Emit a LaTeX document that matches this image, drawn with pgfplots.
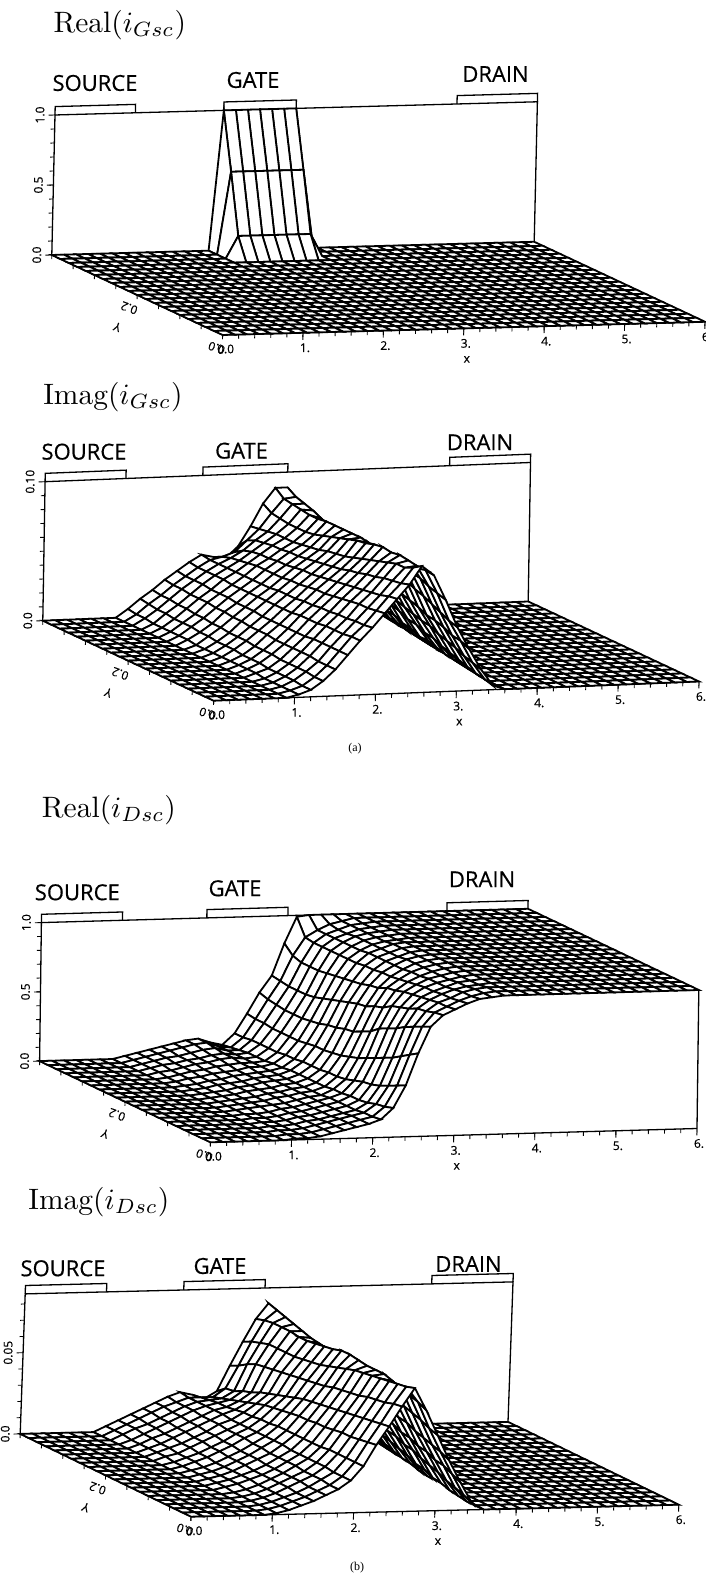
\documentclass[border=0pt]{standalone}
\usepackage{fontspec}
\usepackage{pgfplots}
\usepackage{pgfplotstable}
\pgfplotsset{compat=1.18}
\usetikzlibrary{calc}
\newfontfamily\labf[FakeBold=0.5]{Open Sans}
\newfontfamily\capf{Liberation Serif}
\def\P#1#2{({#1*1pt},{(1582-#2)*1pt})}
% z in percent of the axis top; rows front (y=0) to back (y=0.4) in steps of 0.02, columns x=0,0.15,...,6
\pgfplotstableread[header=false]{
0 0 0 0 0 0 0  0 0 0 0 0 0 0 0 0 0 0 0 0 0 0 0 0 0 0 0 0  0 0 0 0 0 0 0 0 0 0 0 0 0
0 0 0 0 0 0 0  0 0 0 0 0 0 0 0 0 0 0 0 0 0 0 0 0 0 0 0 0  0 0 0 0 0 0 0 0 0 0 0 0 0
0 0 0 0 0 0 0  0 0 0 0 0 0 0 0 0 0 0 0 0 0 0 0 0 0 0 0 0  0 0 0 0 0 0 0 0 0 0 0 0 0
0 0 0 0 0 0 0  0 0 0 0 0 0 0 0 0 0 0 0 0 0 0 0 0 0 0 0 0  0 0 0 0 0 0 0 0 0 0 0 0 0
0 0 0 0 0 0 0  0 0 0 0 0 0 0 0 0 0 0 0 0 0 0 0 0 0 0 0 0  0 0 0 0 0 0 0 0 0 0 0 0 0
0 0 0 0 0 0 0  0 0 0 0 0 0 0 0 0 0 0 0 0 0 0 0 0 0 0 0 0  0 0 0 0 0 0 0 0 0 0 0 0 0
0 0 0 0 0 0 0  0 0 0 0 0 0 0 0 0 0 0 0 0 0 0 0 0 0 0 0 0  0 0 0 0 0 0 0 0 0 0 0 0 0
0 0 0 0 0 0 0  0 0 0 0 0 0 0 0 0 0 0 0 0 0 0 0 0 0 0 0 0  0 0 0 0 0 0 0 0 0 0 0 0 0
0 0 0 0 0 0 0  0 0 0 0 0 0 0 0 0 0 0 0 0 0 0 0 0 0 0 0 0  0 0 0 0 0 0 0 0 0 0 0 0 0
0 0 0 0 0 0 0  0 0 0 0 0 0 0 0 0 0 0 0 0 0 0 0 0 0 0 0 0  0 0 0 0 0 0 0 0 0 0 0 0 0
0 0 0 0 0 0 0  0 0 0 0 0 0 0 0 0 0 0 0 0 0 0 0 0 0 0 0 0  0 0 0 0 0 0 0 0 0 0 0 0 0
0 0 0 0 0 0 0  0 0 0 0 0 0 0 0 0 0 0 0 0 0 0 0 0 0 0 0 0  0 0 0 0 0 0 0 0 0 0 0 0 0
0 0 0 0 0 0 0  0 0 0 0 0 0 0 0 0 0 0 0 0 0 0 0 0 0 0 0 0  0 0 0 0 0 0 0 0 0 0 0 0 0
0 0 0 0 0 0 0  0 0 0 0 0 0 0 0 0 0 0 0 0 0 0 0 0 0 0 0 0  0 0 0 0 0 0 0 0 0 0 0 0 0
0 0 0 0 0 0 0  0 0 0 0 0 0 0 0 0 0 0 0 0 0 0 0 0 0 0 0 0  0 0 0 0 0 0 0 0 0 0 0 0 0
0 0 0 0 0 0 0  0 0 0 0 0 0 0 0 0 0 0 0 0 0 0 0 0 0 0 0 0  0 0 0 0 0 0 0 0 0 0 0 0 0
0 0 0 0 0 0 0  0 0 0 0 0 0 0 0 0 0 0 0 0 0 0 0 0 0 0 0 0  0 0 0 0 0 0 0 0 0 0 0 0 0
0 0 0 0 0 0 0  0 0 0 0 0 0 0 0 0 0 0 0 0 0 0 0 0 0 0 0 0  0 0 0 0 0 0 0 0 0 0 0 0 0
0 0 0 0 0 0 0  0 0 0 0 0 0 0 16 16 16 16 16 16 16 0 0 0 0 0 0 0  0 0 0 0 0 0 0 0 0 0 0 0 0
0 0 0 0 0 0 0  0 0 0 0 0 0 0 59 59 59 59 59 59 59 0 0 0 0 0 0 0  0 0 0 0 0 0 0 0 0 0 0 0 0
0 0 0 0 0 0 0  0 0 0 0 0 0 0 100 100 100 100 100 100 100 0 0 0 0 0 0 0  0 0 0 0 0 0 0 0 0 0 0 0 0
}\tabA
\pgfplotstableread[header=false]{
0 0 0 0 0 0 0  2 5 11 19 29 39 48 58 68 78  91 84 66 46 30 15 3 0 0 0 0  0 0 0 0 0 0 0 0 0 0 0 0 0
0 0 0 0 0 0 0  2 5 11 19 29 39 47 57 67 76  87 85 68 48 33 17 5 0 0 0 0  0 0 0 0 0 0 0 0 0 0 0 0 0
0 0 0 0 0 0 0  2 6 12 19 29 38 47 56 65 75  84 85 70 51 34 19 6 0 0 0 0  0 0 0 0 0 0 0 0 0 0 0 0 0
0 0 0 0 0 0 0  2 6 12 20 29 38 46 56 64 74  84 86 73 54 37 22 8 1 0 0 0  0 0 0 0 0 0 0 0 0 0 0 0 0
0 0 0 0 0 0 0  2 6 12 20 29 38 46 55 63 72  82 87 74 57 39 24 10 2 0 0 0  0 0 0 0 0 0 0 0 0 0 0 0 0
0 0 0 0 0 0 0  3 6 12 20 28 37 45 54 62 71  80 86 76 59 40 26 12 3 0 0 0  0 0 0 0 0 0 0 0 0 0 0 0 0
0 0 0 0 0 0 0  3 7 13 20 28 37 45 53 61 69  78 87 77 62 43 29 14 4 0 0 0  0 0 0 0 0 0 0 0 0 0 0 0 0
0 0 0 0 0 0 0  3 7 13 20 28 37 44 52 60 68  76 86 78 64 45 30 17 5 0 0 0  0 0 0 0 0 0 0 0 0 0 0 0 0
0 0 0 0 0 0 0  3 7 13 21 28 36 44 52 59 66  74 84 79 65 47 32 18 7 1 0 0  0 0 0 0 0 0 0 0 0 0 0 0 0
0 0 0 0 0 0 0  3 8 14 21 28 36 43 51 58 65  72 83 81 67 50 34 21 9 1 0 0  0 0 0 0 0 0 0 0 0 0 0 0 0
0 0 0 0 0 0 0  3 8 14 21 28 36 43 50 57 64  71 81 82 69 52 36 22 9 2 0 0  0 0 0 0 0 0 0 0 0 0 0 0 0
0 0 0 0 0 0 0  3 8 14 22 29 36 43 50 57 63  70 79 82 71 55 38 25 12 3 0 0  0 0 0 0 0 0 0 0 0 0 0 0 0
0 0 0 0 0 0 0  3 9 15 22 29 36 42 49 56 62  68 77 82 72 57 40 27 13 4 0 0  0 0 0 0 0 0 0 0 0 0 0 0 0
0 0 0 0 0 0 0  4 9 15 23 29 36 42 49 55 61  67 75 82 73 59 42 29 16 5 0 0  0 0 0 0 0 0 0 0 0 0 0 0 0
0 0 0 0 0 0 0  4 10 16 23 30 36 42 49 55 61  66 73 82 75 61 44 31 17 7 1 0  0 0 0 0 0 0 0 0 0 0 0 0 0
0 0 0 0 0 0 0  4 10 16 24 30 36 42 49 54 60  65 72 81 75 62 47 32 20 8 1 0  0 0 0 0 0 0 0 0 0 0 0 0 0
0 0 0 0 0 0 0  4 10 17 24 30 37 42 48 54 60  65 72 81 78 65 49 34 22 10 2 0  0 0 0 0 0 0 0 0 0 0 0 0 0
0 0 0 0 0 0 0  4 11 17 24 31 37 42 47 53 59  65 72 82 81 69 53 37 25 12 3 0  0 0 0 0 0 0 0 0 0 0 0 0 0
0 0 0 0 0 0 0  5 11 18 25 31 37 42 46 51 58  64 73 83 83 71 56 40 28 15 4 0  0 0 0 0 0 0 0 0 0 0 0 0 0
0 0 0 0 0 0 0  5 12 18 25 31 37 42 44 47 55  63 74 84 85 75 59 43 30 17 6 0  0 0 0 0 0 0 0 0 0 0 0 0 0
0 0 0 0 0 0 0  6 13 19 26 32 38 43 41 40 48  62 78 89 89 78 63 46 32 19 7 0  0 0 0 0 0 0 0 0 0 0 0 0 0
}\tabB
\pgfplotstableread[header=false]{
0 0 0 0 0 0 0  1 1 2 4 6 8 10 13 21 37 60 79 87 91 95 98 99 100 100 100 100  100 100 100 100 100 100 100 100 100 100 100 100 100
0 0 0 0 0 0 0  1 1 2 4 6 8 10 12 19 34 56 76 86 90 94 97 99 100 100 100 100  100 100 100 100 100 100 100 100 100 100 100 100 100
0 0 0 0 0 0 0  1 1 2 4 6 8 10 12 18 31 52 73 84 90 93 97 99 100 100 100 100  100 100 100 100 100 100 100 100 100 100 100 100 100
0 0 0 0 0 0 0  1 1 2 4 5 7 9 11 16 28 48 70 83 89 93 96 98 99 100 100 100  100 100 100 100 100 100 100 100 100 100 100 100 100
0 0 0 0 0 0 0  1 1 2 4 5 7 9 11 15 26 45 66 80 88 92 95 98 99 100 100 100  100 100 100 100 100 100 100 100 100 100 100 100 100
0 0 0 0 0 0 0  1 1 2 4 5 7 9 11 15 25 42 63 78 87 92 95 97 99 100 100 100  100 100 100 100 100 100 100 100 100 100 100 100 100
0 0 0 0 0 0 0  1 1 2 4 5 7 9 11 14 23 39 60 76 86 91 95 97 99 100 100 100  100 100 100 100 100 100 100 100 100 100 100 100 100
0 0 0 0 0 0 0  1 2 3 4 5 7 9 10 14 21 36 55 72 84 90 94 97 99 100 100 100  100 100 100 100 100 100 100 100 100 100 100 100 100
0 0 0 0 0 0 0  1 2 3 4 6 7 9 10 13 20 34 52 70 83 89 94 97 99 100 100 100  100 100 100 100 100 100 100 100 100 100 100 100 100
0 0 0 0 0 0 0  1 2 3 4 6 7 9 10 13 20 32 49 67 80 88 93 97 99 100 100 100  100 100 100 100 100 100 100 100 100 100 100 100 100
0 0 0 0 0 0 0  1 2 3 5 6 7 9 10 13 19 31 48 66 79 88 93 97 99 100 100 100  100 100 100 100 100 100 100 100 100 100 100 100 100
0 0 0 0 0 0 0  1 2 3 5 6 8 9 10 13 19 30 46 64 77 87 93 96 99 100 100 100  100 100 100 100 100 100 100 100 100 100 100 100 100
0 0 0 0 0 0 0  1 2 4 5 6 8 9 10 13 19 30 45 62 76 87 93 96 99 100 100 100  100 100 100 100 100 100 100 100 100 100 100 100 100
0 0 0 0 0 0 0  1 2 4 5 7 8 9 10 12 18 29 43 60 75 86 93 96 99 100 100 100  100 100 100 100 100 100 100 100 100 100 100 100 100
0 0 0 0 0 0 0  1 3 4 6 7 8 10 10 12 18 28 42 58 74 86 92 96 98 99 100 100  100 100 100 100 100 100 100 100 100 100 100 100 100
0 0 0 0 0 0 0  1 3 5 6 8 9 10 10 11 17 28 41 56 73 86 92 96 98 99 100 100  100 100 100 100 100 100 100 100 100 100 100 100 100
0 0 0 0 0 0 0  2 3 5 7 8 10 11 10 11 17 28 41 55 72 86 92 96 98 99 100 100  100 100 100 100 100 100 100 100 100 100 100 100 100
0 0 0 0 0 0 0  2 4 5 7 8 10 11 10 11 17 28 41 55 72 86 92 95 98 99 100 100  100 100 100 100 100 100 100 100 100 100 100 100 100
0 0 0 0 0 0 0  2 4 6 7 9 11 12 10 10 17 29 42 55 72 86 92 95 98 99 100 100  100 100 100 100 100 100 100 100 100 100 100 100 100
0 0 0 0 0 0 0  2 4 6 8 10 12 13 10 9 16 29 43 56 74 87 92 96 98 100 100 100  100 100 100 100 100 100 100 100 100 100 100 100 100
0 0 0 0 0 0 0  2 4 6 8 10 12 13 10 8 16 30 45 57 80 99 100 100 100 100 100 100  100 100 100 100 100 100 100 100 100 100 100 100 100
}\tabC
\pgfplotstableread[header=false]{
0 0 0 0 0 0 0  1 3 6 9 13 17 23 33 48 61  75 88 72 54 36 20 5 0 0 0 0  0 0 0 0 0 0 0 0 0 0 0 0 0
0 0 0 0 0 0 0  1 3 6 9 13 17 23 33 47 60  74 86 75 56 39 23 8 0 0 0 0  0 0 0 0 0 0 0 0 0 0 0 0 0
0 0 0 0 0 0 0  1 3 6 9 13 18 23 33 46 59  72 85 77 59 41 26 10 0 0 0 0  0 0 0 0 0 0 0 0 0 0 0 0 0
0 0 0 0 0 0 0  1 3 6 10 14 18 24 33 45 58  71 84 79 61 43 27 12 1 0 0 0  0 0 0 0 0 0 0 0 0 0 0 0 0
0 0 0 0 0 0 0  1 3 6 10 14 18 24 33 45 57  70 83 81 63 45 30 15 2 0 0 0  0 0 0 0 0 0 0 0 0 0 0 0 0
0 0 0 0 0 0 0  1 3 6 10 14 19 24 32 44 56  68 82 83 64 48 31 17 4 0 0 0  0 0 0 0 0 0 0 0 0 0 0 0 0
0 0 0 0 0 0 0  2 4 7 10 14 19 24 32 43 55  67 81 83 65 49 34 19 5 0 0 0  0 0 0 0 0 0 0 0 0 0 0 0 0
0 0 0 0 0 0 0  2 4 7 10 14 19 24 32 43 54  66 80 83 68 51 35 22 8 0 0 0  0 0 0 0 0 0 0 0 0 0 0 0 0
0 0 0 0 0 0 0  2 4 7 11 15 19 25 32 42 53  65 78 84 70 53 38 23 9 0 0 0  0 0 0 0 0 0 0 0 0 0 0 0 0
0 0 0 0 0 0 0  2 4 7 11 15 20 25 32 42 52  63 76 85 71 54 39 26 12 1 0 0  0 0 0 0 0 0 0 0 0 0 0 0 0
0 0 0 0 0 0 0  2 4 7 11 15 20 25 32 41 51  62 74 85 72 57 42 27 14 3 0 0  0 0 0 0 0 0 0 0 0 0 0 0 0
0 0 0 0 0 0 0  2 5 8 12 16 21 25 31 40 49  61 72 83 75 59 43 29 16 4 0 0  0 0 0 0 0 0 0 0 0 0 0 0 0
0 0 0 0 0 0 0  2 5 8 12 16 21 25 31 39 47  60 71 82 76 60 45 31 18 6 0 0  0 0 0 0 0 0 0 0 0 0 0 0 0
0 0 0 0 0 0 0  3 5 9 13 17 21 25 30 38 45  59 70 81 77 61 46 33 19 8 0 0  0 0 0 0 0 0 0 0 0 0 0 0 0
0 0 0 0 0 0 0  3 6 9 13 17 22 25 30 36 43  58 69 80 78 62 48 34 22 9 1 0  0 0 0 0 0 0 0 0 0 0 0 0 0
0 0 0 0 0 0 0  3 6 10 14 18 22 26 29 34 41  57 69 80 79 64 50 36 23 11 2 0  0 0 0 0 0 0 0 0 0 0 0 0 0
0 0 0 0 0 0 0  3 7 10 14 18 22 26 28 32 38  56 69 81 81 66 52 38 25 13 3 0  0 0 0 0 0 0 0 0 0 0 0 0 0
0 0 0 0 0 0 0  3 7 11 15 19 23 26 28 30 36  55 69 81 83 69 54 41 28 15 4 0  0 0 0 0 0 0 0 0 0 0 0 0 0
0 0 0 0 0 0 0  4 8 11 15 19 23 26 27 28 33  52 67 81 85 71 58 43 30 17 6 0  0 0 0 0 0 0 0 0 0 0 0 0 0
0 0 0 0 0 0 0  4 8 12 16 20 23 26 26 26 32  48 65 80 87 74 60 45 32 20 8 0  0 0 0 0 0 0 0 0 0 0 0 0 0
0 0 0 0 0 0 0  4 8 12 16 20 24 27 25 22 27  45 62 78 89 76 62 46 33 21 9 0  0 0 0 0 0 0 0 0 0 0 0 0 0
}\tabD
\newcommand\buildsurf[2]{%
  \gdef\tmpz{}%
  \foreach \r in {20,19,...,0}{\foreach \c in {40,39,...,0}{%
    \pgfplotstablegetelem{\r}{[index]\c}\of#1%
    \xdef\tmpz{\tmpz(\the\numexpr\c*15\relax,\the\numexpr\r*2\relax,\pgfplotsretval) }%
  }}%
  \global\let#2\tmpz}
\buildsurf\tabA\zA
\buildsurf\tabB\zB
\buildsurf\tabC\zC
\buildsurf\tabD\zD
\pgfplotsset{dev/.style={hide axis,clip=false,anchor=origin,
  xmin=0,xmax=600,ymin=0,ymax=40,zmin=0,zmax=100,
  colormap={allwhite}{color=(white) color=(white)}},
  fr/.style={black,line width=1.3pt,mark=none}}
\tikzset{lab/.style={font=\labf\fontsize{12}{14}\selectfont,inner sep=0pt},
  elec/.style={font=\labf\fontsize{22}{24}\selectfont,inner sep=0pt},
  ttl/.style={anchor=west,scale=2.95,inner sep=0pt}}
\newcommand\surfplot[1]{\addplot3[surf,shader=faceted,faceted color=black,line width=1.8pt,mesh/rows=21,z buffer=none,point meta=0] coordinates {#1};}
\newcommand\frameaxis[3]{%
  \addplot3[fr] coordinates {(0,0,0)(0,40,0)(0,40,100)(600,40,100)(600,40,#3)};
  \addplot3[fr] coordinates {(0,0,0)(600,0,0)};
  \addplot3[fr] coordinates {(0,40,100)(0,40,106)(100,40,106)(100,40,100)};
  \addplot3[fr] coordinates {(#1,40,100)(#1,40,106)(#2,40,106)(#2,40,100)};
  \addplot3[fr] coordinates {(500,40,100)(500,40,106)(600,40,106)(600,40,100)};
  \pgfplotsinvokeforeach{0,20,...,600}{\draw[black,line width=.9pt] (axis cs:##1,0,0)--(axis cs:##1,0,-3);}
  \pgfplotsinvokeforeach{100,200,...,600}{\draw[black,line width=.9pt] (axis cs:##1,0,0)--(axis cs:##1,0,-5);}
  \pgfplotsinvokeforeach{0,5,...,40}{\draw[black,line width=.9pt] (axis cs:0,##1,0)--(axis cs:0,##1,-3);}
  \pgfplotsinvokeforeach{1,...,6}{\node[lab] at ($(axis cs:##100,0,0)+(2pt,-15pt)$) {##1.};}
  \node[lab] at ($(axis cs:0,0,0)+(3pt,-14pt)$) {0.0};
  \node[lab,rotate=160] at ($(axis cs:0,0,0)+(-6pt,-13pt)$) {0.0};
  \node[lab,rotate=160] at ($(axis cs:0,20,0)+(-8pt,-13pt)$) {0.2};
  \node[lab,rotate=160] at ($(axis cs:0,20,0)+(-20pt,-32pt)$) {Y};
  \node[lab] at ($(axis cs:300,0,0)+(3pt,-31pt)$) {x};
}
\newcommand\zticks[1]{\pgfplotsinvokeforeach{#1}{\draw[black,line width=.9pt] (axis cs:0,40,##1)--(axis cs:-5,40,##1);}}
\newcommand\zlab[3]{\draw[black,line width=.9pt] (axis cs:0,40,#1)--(axis cs:-8,40,#1);\node[lab,rotate=90] at ($(axis cs:0,40,#1)+(#3pt,0pt)$) {#2};}
\begin{document}
\begin{tikzpicture}
\useasboundingbox \P{0}{0} rectangle \P{705}{1582};
% ---------- Real i_G
\node[ttl] at \P{53}{25} {Real$(i_{Gsc})$};
\node[elec] at \P{95}{83} {SOURCE};
\node[elec] at \P{253}{80} {GATE};
\node[elec] at \P{495.5}{74} {DRAIN};
\begin{axis}[dev,at={(222.6pt,1247pt)},x={(0.804pt,0.022pt)},y={(-4.27pt,2pt)},z={(0.032pt,1.4pt)}]
\frameaxis{210}{300}{0}
\zticks{10,20,...,90}
\zlab{0}{0.0}{-15}\zlab{50}{0.5}{-15}\zlab{100}{1.0}{-15}
\expandafter\surfplot\expandafter{\zA}
\end{axis}
% ---------- Imag i_G
\node[ttl] at \P{42.7}{397} {Imag$(i_{Gsc})$};
\node[elec] at \P{84}{451.7} {SOURCE};
\node[elec] at \P{241.5}{450.7} {GATE};
\node[elec] at \P{480}{442.3} {DRAIN};
\begin{axis}[dev,at={(213.6pt,881.3pt)},x={(0.809pt,0.032pt)},y={(-4.27pt,2pt)},z={(0.023pt,1.39pt)}]
\frameaxis{195}{300}{0}
\zticks{10,20,...,90}
\zlab{0}{0.0}{-15}\zlab{100}{0.10}{-15}
\expandafter\surfplot\expandafter{\zB}
\end{axis}
\node[font=\capf\fontsize{12}{14}\selectfont] at \P{355}{749} {(a)};
% ---------- Real i_D
\node[ttl] at \P{41.4}{810} {Real$(i_{Dsc})$};
\node[elec] at \P{77.3}{892.3} {SOURCE};
\node[elec] at \P{235}{888.3} {GATE};
\node[elec] at \P{482}{879.3} {DRAIN};
\begin{axis}[dev,at={(210.4pt,439.7pt)},x={(0.811pt,0.023pt)},y={(-4.27pt,2.03pt)},z={(0.018pt,1.385pt)}]
\frameaxis{204}{304}{100}
\zticks{10,20,...,90}
\zlab{0}{0.0}{-15}\zlab{50}{0.5}{-15}\zlab{100}{1.0}{-15}
\expandafter\surfplot\expandafter{\zC}
\addplot3[fr] coordinates {(600,0,0)(600,0,100)};
\end{axis}
% ---------- Imag i_D
\node[ttl] at \P{27.9}{1201.7} {Imag$(i_{Dsc})$};
\node[elec] at \P{63}{1268.3} {SOURCE};
\node[elec] at \P{220}{1266} {GATE};
\node[elec] at \P{468.5}{1264} {DRAIN};
\begin{axis}[dev,at={(191pt,65.3pt)},x={(0.813pt,0.02pt)},y={(-4.27pt,2.07pt)},z={(0.05pt,1.4pt)}]
\frameaxis{195}{295}{0}
\zticks{11.6,23.2,34.8,46.4,69.6,81.2,92.8}
\zlab{0}{0.0}{-15}\zlab{58}{0.05}{-15}
\expandafter\surfplot\expandafter{\zD}
\end{axis}
\node[font=\capf\fontsize{12}{14}\selectfont] at \P{357}{1568} {(b)};
\end{tikzpicture}
\end{document}
